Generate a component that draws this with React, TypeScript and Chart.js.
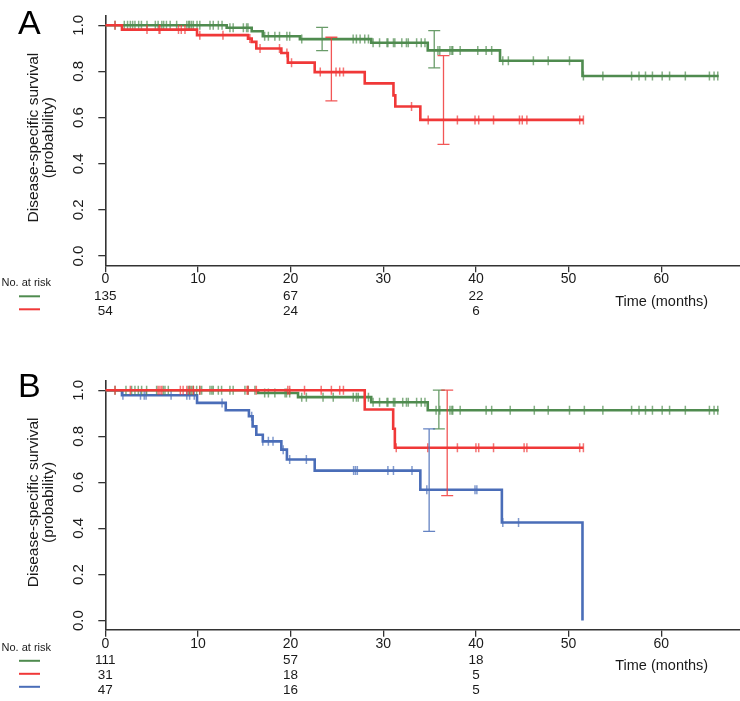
import React, { useEffect, useRef } from "react";
import { Chart, registerables } from "chart.js";

Chart.register(...registerables);

// ---------- colours ----------
const GREEN = "#4f8b4f";
const RED = "#f03838";
const BLUE = "#4a6db8";
const AXIS = "#333333";
const FONT = "'Liberation Sans', Arial, Helvetica, sans-serif";

// ---------- shared axes ----------
const xTicks = [0, 10, 20, 30, 40, 50, 60];
const yTicks = [0, 0.2, 0.4, 0.6, 0.8, 1.0];
const riskTimes = [0, 20, 40];

// ---------- Panel A ----------
const aGreenTimes = [0, 13.1, 15.8, 17.0, 21.0, 28.7, 34.8, 42.6, 51.5, 66.2];
const aGreenSurv = [1, 0.989, 0.974, 0.952, 0.94, 0.924, 0.891, 0.846, 0.78, 0.78];
const aGreenCensor = [
  1.05, 2.05, 2.4, 2.7, 2.95, 3.2, 3.6, 3.9, 4.5, 5.4, 5.7, 6.1, 6.3, 6.6, 7.0, 7.7,
  8.8, 9.0, 9.1, 9.3, 9.5, 9.9, 10.2, 11.3, 11.65, 12.2, 12.6, 13.45, 13.8, 14.9,
  15.25, 15.4, 17.2, 17.6, 18.3, 18.8, 19.6, 19.9, 21.2, 26.75, 27.1, 27.5, 28.0,
  28.4, 28.9, 29.6, 30.4, 30.5, 31.1, 31.25, 32.0, 32.5, 32.7, 33.6, 34.1, 34.5,
  35.9, 36.1, 37.2, 37.4, 37.5, 38.3, 40.2, 41.1, 41.7, 42.9, 43.5, 46.2, 47.8,
  50.1, 51.6, 53.7, 56.8, 57.6, 58.3, 59.05, 60.1, 60.9, 62.6, 65.2, 65.7, 66.1,
];
const aGreenErrTime = [23.4, 35.5];
const aGreenErrLow = [0.89, 0.815];
const aGreenErrHigh = [0.991, 0.977];

const aRedTimes = [0, 1.8, 9.9, 15.4, 15.8, 16.3, 19.0, 19.7, 22.6, 28.0, 31.1, 31.3, 34.0, 51.6];
const aRedSurv = [1, 0.981, 0.957, 0.942, 0.928, 0.899, 0.88, 0.838, 0.797, 0.748, 0.696, 0.648, 0.59, 0.59];
const aRedCensor = [
  1.05, 4.5, 5.8, 5.9, 7.9, 8.2, 8.6, 10.2, 12.7, 15.6, 16.7, 18.8, 19.6, 20.1, 23.2,
  24.9, 25.3, 25.7, 33.05, 34.85, 38.0, 39.9, 40.3, 41.9, 44.7, 45.0, 45.5, 51.2, 51.6,
];
const aRedErrTime = [24.4, 36.5];
const aRedErrLow = [0.672, 0.484];
const aRedErrHigh = [0.948, 0.868];

const aRiskGreen = [135, 67, 22];
const aRiskRed = [54, 24, 6];

// ---------- Panel B ----------
const bGreenTimes = [0, 16.5, 20.8, 28.7, 34.8, 66.2];
const bGreenSurv = [1, 0.988, 0.97, 0.948, 0.913, 0.913];
const bGreenCensor = [
  1.05, 2.23, 2.84, 3.2, 3.56, 3.92, 4.46, 5.54, 6.26, 6.44, 6.8, 8.96, 9.14, 9.32,
  9.5, 9.86, 10.2, 10.4, 11.3, 11.5, 11.65, 12.2, 12.55, 13.45, 13.8, 15.07, 15.43,
  16.15, 17.2, 17.6, 18.3, 19.4, 19.56, 19.9, 21.2, 21.7, 23.5, 24.6, 26.76, 27.1,
  27.3, 28.4, 28.9, 29.6, 30.4, 30.5, 31.1, 31.25, 32.1, 32.5, 32.7, 33.6, 34.1,
  34.5, 35.7, 36.1, 37.2, 37.4, 37.5, 38.3, 41.1, 41.7, 43.7, 46.3, 47.8, 50.1, 51.7,
  53.7, 56.8, 57.6, 58.3, 59.05, 60.1, 60.9, 62.6, 65.2, 65.7, 66.1,
];
const bGreenErrTime = [36.0];
const bGreenErrLow = [0.832];
const bGreenErrHigh = [1.0];

const bRedTimes = [0, 28.0, 31.07, 31.25, 51.6];
const bRedSurv = [1, 0.916, 0.833, 0.75, 0.75];
const bRedCensor = [
  1.05, 2.7, 5.7, 5.9, 6.1, 8.1, 8.4, 8.8, 9.1, 9.5, 10.2, 15.3, 15.4, 16.3, 19.7,
  19.9, 21.5, 23.3, 24.4, 25.3, 25.7, 31.4, 34.8, 38.0, 40.0, 40.3, 41.9, 45.2, 45.5,
  51.2, 51.6,
];
const bRedErrTime = [36.9];
const bRedErrLow = [0.542];
const bRedErrHigh = [1.0];

const bBlueTimes = [0, 1.8, 9.9, 13.0, 15.5, 15.9, 16.3, 17.0, 19.0, 19.6, 22.6, 34.0, 42.8, 51.5];
const bBlueSurv = [1, 0.978, 0.945, 0.913, 0.887, 0.843, 0.807, 0.778, 0.742, 0.699, 0.651, 0.568, 0.426, 0];
const bBlueCensor = [
  1.9, 3.8, 4.2, 4.4, 7.1, 8.8, 9.1, 9.6, 12.6, 15.8, 17.0, 17.6, 18.1, 19.2, 19.9,
  21.7, 26.8, 27.0, 27.2, 30.5, 31.1, 33.1, 34.7, 39.9, 40.1, 42.9, 44.6,
];
const bBlueErrTime = [34.95];
const bBlueErrLow = [0.387];
const bBlueErrHigh = [0.832];

const bRiskGreen = [111, 57, 18];
const bRiskRed = [31, 18, 5];
const bRiskBlue = [47, 16, 5];

// ---------- helpers ----------
function alpha(hex: string, a: number) {
  const r = parseInt(hex.slice(1, 3), 16);
  const g = parseInt(hex.slice(3, 5), 16);
  const b = parseInt(hex.slice(5, 7), 16);
  return `rgba(${r},${g},${b},${a})`;
}

function survAt(times: number[], surv: number[], t: number) {
  let v = surv[0];
  for (let i = 0; i < times.length; i++) {
    if (times[i] <= t) v = surv[i];
  }
  return v;
}

type Series = {
  color: string;
  times: number[];
  surv: number[];
  censor: number[];
  errTime: number[];
  errLow: number[];
  errHigh: number[];
  risk: number[];
  order: number;
};

type Panel = {
  letter: string;
  height: number;
  padTop: number;
  padBottom: number;
  letterBaseline: number;
  series: Series[];
};

const panelA: Panel = {
  letter: "A",
  height: 350,
  padTop: 16,
  padBottom: 77.7,
  letterBaseline: 34,
  series: [
    { color: GREEN, times: aGreenTimes, surv: aGreenSurv, censor: aGreenCensor, errTime: aGreenErrTime, errLow: aGreenErrLow, errHigh: aGreenErrHigh, risk: aRiskGreen, order: 2 },
    { color: RED, times: aRedTimes, surv: aRedSurv, censor: aRedCensor, errTime: aRedErrTime, errLow: aRedErrLow, errHigh: aRedErrHigh, risk: aRiskRed, order: 1 },
  ],
};

const panelB: Panel = {
  letter: "B",
  height: 351,
  padTop: 31,
  padBottom: 64.2,
  letterBaseline: 47,
  series: [
    { color: GREEN, times: bGreenTimes, surv: bGreenSurv, censor: bGreenCensor, errTime: bGreenErrTime, errLow: bGreenErrLow, errHigh: bGreenErrHigh, risk: bRiskGreen, order: 2 },
    { color: RED, times: bRedTimes, surv: bRedSurv, censor: bRedCensor, errTime: bRedErrTime, errLow: bRedErrLow, errHigh: bRedErrHigh, risk: bRiskRed, order: 1 },
    { color: BLUE, times: bBlueTimes, surv: bBlueSurv, censor: bBlueCensor, errTime: bBlueErrTime, errLow: bBlueErrLow, errHigh: bBlueErrHigh, risk: bRiskBlue, order: 3 },
  ],
};

function makeDecor(panel: Panel) {
  return {
    id: "decor" + panel.letter,
    afterDatasetsDraw(chart: any) {
      const ctx = chart.ctx as CanvasRenderingContext2D;
      const xs = chart.scales.x;
      const ys = chart.scales.y;
      ctx.save();
      // error bars
      panel.series.forEach((s) => {
        ctx.strokeStyle = alpha(s.color, 0.85);
        ctx.lineWidth = 1.3;
        s.errTime.forEach((t, i) => {
          const x = xs.getPixelForValue(t);
          const y1 = ys.getPixelForValue(s.errHigh[i]);
          const y2 = ys.getPixelForValue(s.errLow[i]);
          ctx.beginPath();
          ctx.moveTo(x, y1);
          ctx.lineTo(x, y2);
          ctx.moveTo(x - 6, y1);
          ctx.lineTo(x + 6, y1);
          ctx.moveTo(x - 6, y2);
          ctx.lineTo(x + 6, y2);
          ctx.stroke();
        });
      });
      ctx.restore();
    },
    afterDraw(chart: any) {
      const ctx = chart.ctx as CanvasRenderingContext2D;
      const xs = chart.scales.x;
      const ys = chart.scales.y;
      const area = chart.chartArea;
      const ab = area.bottom;
      ctx.save();
      ctx.fillStyle = "#1a1a1a";
      ctx.textBaseline = "middle";

      // y tick labels (rotated)
      ctx.font = `15px ${FONT}`;
      ctx.textAlign = "center";
      yTicks.forEach((v) => {
        const y = ys.getPixelForValue(v);
        ctx.save();
        ctx.translate(79, y);
        ctx.rotate(-Math.PI / 2);
        ctx.fillText(v.toFixed(1), 0, 0);
        ctx.restore();
      });

      // y title
      const midY = (area.top + area.bottom) / 2 - 3;
      ctx.font = `15.5px ${FONT}`;
      ctx.save();
      ctx.translate(34, midY);
      ctx.rotate(-Math.PI / 2);
      ctx.fillText("Disease-specific survival", 0, 0);
      ctx.restore();
      ctx.save();
      ctx.translate(49, midY);
      ctx.rotate(-Math.PI / 2);
      ctx.fillText("(probability)", 0, 0);
      ctx.restore();

      // x tick labels
      ctx.font = `14px ${FONT}`;
      xTicks.forEach((v) => {
        ctx.fillText(String(v), xs.getPixelForValue(v), ab + 14);
      });

      // number at risk
      ctx.font = `13.5px ${FONT}`;
      panel.series.forEach((s, i) => {
        s.risk.forEach((n, j) => {
          ctx.fillText(String(n), xs.getPixelForValue(riskTimes[j]), ab + 30.7 + 15 * i);
        });
      });
      ctx.textAlign = "left";
      ctx.font = `11px ${FONT}`;
      ctx.fillText("No. at risk", 1.5, ab + 18);
      panel.series.forEach((s, i) => {
        ctx.strokeStyle = s.color;
        ctx.lineWidth = 2;
        const y = ab + 31 + 13 * i;
        ctx.beginPath();
        ctx.moveTo(19, y);
        ctx.lineTo(40, y);
        ctx.stroke();
      });

      // x title
      ctx.textAlign = "center";
      ctx.font = `14.5px ${FONT}`;
      ctx.fillText("Time (months)", 661.7, ab + 36.3);

      // panel letter
      ctx.textAlign = "left";
      ctx.textBaseline = "alphabetic";
      ctx.fillStyle = "#000";
      ctx.font = `34px ${FONT}`;
      ctx.fillText(panel.letter, 18, panel.letterBaseline);
      ctx.restore();
    },
  };
}

function buildConfig(panel: Panel): any {
  const datasets: any[] = [];
  panel.series.forEach((s) => {
    datasets.push({
      type: "line",
      data: s.times.map((t, i) => ({ x: t, y: s.surv[i] })),
      stepped: "before",
      borderColor: s.color,
      borderWidth: 2.6,
      pointRadius: 0,
      fill: false,
      order: s.order,
    });
    datasets.push({
      type: "scatter",
      data: s.censor.map((t) => ({ x: t, y: survAt(s.times, s.surv, t) })),
      pointStyle: "line",
      rotation: 90,
      pointRadius: 4.5,
      borderColor: alpha(s.color, 0.7),
      backgroundColor: alpha(s.color, 0.7),
      borderWidth: 1.5,
      order: s.order,
    });
  });

  const gridCfg = {
    display: true,
    drawOnChartArea: false,
    drawTicks: true,
    tickLength: 7,
    color: AXIS,
    lineWidth: 1.3,
  };
  const borderCfg = { display: true, color: AXIS, width: 1.6 };

  return {
    type: "line",
    data: { datasets },
    options: {
      responsive: false,
      animation: false,
      devicePixelRatio: 1,
      layout: { autoPadding: false, padding: { left: 98.3, right: 0, top: panel.padTop, bottom: panel.padBottom } },
      plugins: { legend: { display: false }, tooltip: { enabled: false }, title: { display: false } },
      scales: {
        x: {
          type: "linear",
          min: 0,
          max: 68.5,
          afterFit: (s: any) => {
            s.height = 7;
          },
          ticks: { display: false, stepSize: 10, includeBounds: false },
          grid: gridCfg,
          border: borderCfg,
        },
        y: {
          type: "linear",
          min: -0.04,
          max: 1.04,
          afterFit: (s: any) => {
            s.width = 7;
          },
          ticks: { display: false, stepSize: 0.2, includeBounds: false },
          grid: gridCfg,
          border: borderCfg,
        },
      },
    },
    plugins: [makeDecor(panel)],
  };
}

function KMPanel({ panel }: { panel: Panel }) {
  const ref = useRef<HTMLCanvasElement | null>(null);
  useEffect(() => {
    if (!ref.current) return;
    const chart = new Chart(ref.current, buildConfig(panel));
    return () => chart.destroy();
  }, [panel]);
  return (
    <canvas
      ref={ref}
      width={740}
      height={panel.height}
      style={{ display: "block", width: 740, height: panel.height }}
    />
  );
}

export default function App() {
  return (
    <div style={{ position: "absolute", left: 0, top: 0, width: 740, height: 701, background: "#fff" }}>
      <KMPanel panel={panelA} />
      <KMPanel panel={panelB} />
    </div>
  );
}
